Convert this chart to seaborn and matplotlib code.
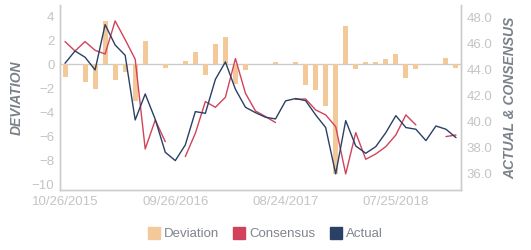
import numpy as np
import pandas as pd
import matplotlib
matplotlib.use("Agg")
import matplotlib.pyplot as plt
import seaborn as sns
from matplotlib.lines import Line2D

sns.set_theme(style="white")
plt.rcParams['font.family'] = ['Liberation Sans', 'DejaVu Sans']

# ---- data ----
deviation = [-1.1, 0.0, -1.5, -2.05, 3.6, -1.3, -0.65, -3.05, 1.9, 0.0,
             -0.3, 0.0, 0.25, 1.0, -0.9, 1.67, 2.25, -1.7, -0.47, 0.0,
             0.0, 0.17, 0.0, 0.17, -1.75, -2.2, -3.5, -9.2, 3.17, -0.4,
             0.17, 0.17, 0.42, 0.83, -1.14, -0.4, 0.0, 0.0, 0.5, -0.36]
actual = [44.46, 45.40, 44.92, 43.95, 47.42, 45.86, 45.07, 40.12, 42.11, 40.17,
          37.65, 37.01, 38.21, 40.76, 40.63, 43.23, 44.56, 42.47, 41.09, 40.68,
          40.33, 40.20, 41.58, 41.76, 41.60, 40.51, 39.54, 35.99, 40.07, 38.13,
          37.57, 38.08, 39.15, 40.45, 39.54, 39.41, 38.54, 39.66, 39.41, 38.77]
consensus = [46.12, 45.40, 46.12, 45.45, 45.17, 47.70, 46.27, 44.77, 37.90, 40.12,
             38.46, np.nan, 37.32, 39.10, 41.53, 41.09, 41.86, 44.82, 42.16, 40.81,
             40.38, 39.92, np.nan, 41.70, 41.73, 40.89, 40.51, 39.61, 35.99, 39.15,
             37.11, 37.52, 38.08, 38.97, 40.51, 39.74, np.nan, np.nan, 38.85, 38.97]
tick_positions = [0, 11, 22, 33]
tick_labels = ["10/26/2015", "09/26/2016", "08/24/2017", "07/25/2018"]

c_dev = "#f3c99a"
c_con = "#d0435a"
c_act = "#2a4066"
c_tick = "#c4c4c4"
c_spine = "#cccccc"
c_lab = "#7b8089"

n = len(deviation)
idx = np.arange(n)

def segments(vals):
    seg, s, prev_nan = [], 0, False
    for v in vals:
        if np.isnan(v):
            prev_nan = True
            seg.append(-1)
        else:
            if prev_nan:
                s += 1
            prev_nan = False
            seg.append(s)
    return seg

df_bar = pd.DataFrame({"i": idx, "dev": deviation})
df_act = pd.DataFrame({"i": idx, "v": actual, "seg": segments(actual)})
df_con = pd.DataFrame({"i": idx, "v": consensus, "seg": segments(consensus)})
df_act = df_act[df_act.seg >= 0]
df_con = df_con[df_con.seg >= 0]

fig = plt.figure(figsize=(5.31, 2.5), dpi=100)
ax = fig.add_axes([60 / 531, 60 / 250, 401 / 531, 185 / 250])
ax2 = ax.twinx()

ax.axhline(0, color=c_spine, lw=1.0, zorder=0)
sns.barplot(data=df_bar, x="i", y="dev", color=c_dev, saturation=1, width=0.5,
            linewidth=0, ax=ax, zorder=2)

sns.lineplot(data=df_con, x="i", y="v", units="seg", estimator=None,
             color=c_con, lw=1.0, ax=ax2)
sns.lineplot(data=df_act, x="i", y="v", units="seg", estimator=None,
             color=c_act, lw=1.0, ax=ax2)

ax.set_xlim(-0.5, n - 0.5)
ax2.set_xlim(-0.5, n - 0.5)
ax.set_ylim(-10.5, 4.92)
ax2.set_ylim(34.76, 48.92)

ax.set_yticks([4, 2, 0, -2, -4, -6, -8, -10])
ax2.set_yticks([36, 38, 40, 42, 44, 46, 48])
ax2.set_yticklabels([f"{v:.1f}" for v in [36, 38, 40, 42, 44, 46, 48]])
ax.set_xticks(tick_positions)
ax.set_xticklabels(tick_labels)
ax.set_xticks([-0.5, n - 0.5], minor=True)

for a in (ax, ax2):
    for sp in a.spines.values():
        sp.set_color(c_spine)
        sp.set_linewidth(1.0)
    a.spines["top"].set_visible(False)
    a.tick_params(colors=c_tick, labelsize=9.5, length=0, pad=3)
    a.grid(False)

ax.tick_params(axis="x", which="minor", length=4, color=c_spine, width=1)
ax.tick_params(axis="y", pad=4)
ax2.tick_params(axis="y", pad=4)
ax.tick_params(axis="x", pad=4)

ax.set_xlabel("")
ax.set_ylabel("DEVIATION", color=c_lab, fontsize=10, fontweight="bold",
              fontstyle="italic", labelpad=6)
ax2.set_ylabel("ACTUAL & CONSENSUS", color=c_lab, fontsize=10, fontweight="bold",
               fontstyle="italic", labelpad=8, rotation=90)
ax2.yaxis.set_label_position("right")
ax.set_facecolor("none")
ax2.set_facecolor("none")

handles = [
    Line2D([], [], marker="s", ls="none", markersize=8, color=c_dev),
    Line2D([], [], marker="s", ls="none", markersize=8, color=c_con),
    Line2D([], [], marker="s", ls="none", markersize=8, color=c_act),
]
fig.legend(handles, ["Deviation", "Consensus", "Actual"], loc="center",
           bbox_to_anchor=(265 / 531, 1 - 234 / 250), ncol=3, frameon=False,
           fontsize=9.5, labelcolor="#80848c", handletextpad=0.3,
           columnspacing=1.0, handlelength=1.0)

fig.savefig("out.png", dpi=100)
